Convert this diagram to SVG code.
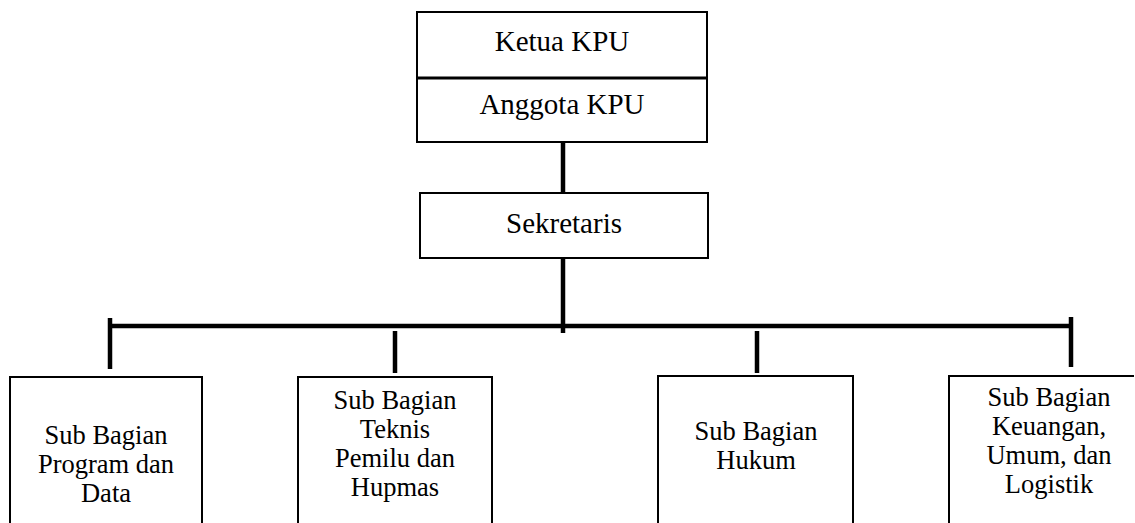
<svg xmlns="http://www.w3.org/2000/svg" width="1135" height="523" viewBox="0 0 1135 523">
<style>
.box{fill:#fff;stroke:#000;stroke-width:2}
.conn{stroke:#000;stroke-width:4.5;fill:none}
text{font-family:'Liberation Serif','Times New Roman','DejaVu Serif',serif;fill:#000;text-anchor:middle}
.big{font-size:29px}
.sm{font-size:26.5px}
</style>
<rect width="1135" height="523" fill="#fff"/>
<g id="connectors">
<line class="conn" x1="563" y1="142" x2="563" y2="193"/>
<line class="conn" x1="563" y1="258" x2="563" y2="333"/>
<line class="conn" x1="110" y1="326" x2="1071" y2="326"/>
<line class="conn" x1="110" y1="318" x2="110" y2="369"/>
<line class="conn" x1="1071" y1="317" x2="1071" y2="367"/>
<line class="conn" x1="395" y1="331" x2="395" y2="373"/>
<line class="conn" x1="757" y1="331" x2="757" y2="373"/>
</g>
<g id="ketua-anggota">
<rect class="box" x="417" y="12" width="290" height="130"/>
<line x1="417" y1="78" x2="707" y2="78" stroke="#000" stroke-width="3"/>
<text class="big" x="562" y="51">Ketua KPU</text>
<text class="big" x="562" y="114">Anggota KPU</text>
</g>
<g id="sekretaris">
<rect class="box" x="420" y="193" width="288" height="65"/>
<text class="big" x="564" y="233">Sekretaris</text>
</g>
<g id="sub-program">
<rect class="box" x="10" y="377" width="192" height="160"/>
<text class="sm" x="106" y="444">Sub Bagian</text>
<text class="sm" x="106" y="473">Program dan</text>
<text class="sm" x="106" y="502">Data</text>
</g>
<g id="sub-teknis">
<rect class="box" x="298" y="377" width="194" height="160"/>
<text class="sm" x="395" y="409">Sub Bagian</text>
<text class="sm" x="395" y="438">Teknis</text>
<text class="sm" x="395" y="467">Pemilu dan</text>
<text class="sm" x="395" y="496">Hupmas</text>
</g>
<g id="sub-hukum">
<rect class="box" x="658" y="376" width="195" height="160"/>
<text class="sm" x="756" y="440">Sub Bagian</text>
<text class="sm" x="756" y="469">Hukum</text>
</g>
<g id="sub-keuangan">
<path class="box" d="M949,540 L949,376 L1134,376" fill="none"/>
<text class="sm" x="1049" y="406">Sub Bagian</text>
<text class="sm" x="1049" y="435">Keuangan,</text>
<text class="sm" x="1049" y="464">Umum, dan</text>
<text class="sm" x="1049" y="493">Logistik</text>
</g>
</svg>
